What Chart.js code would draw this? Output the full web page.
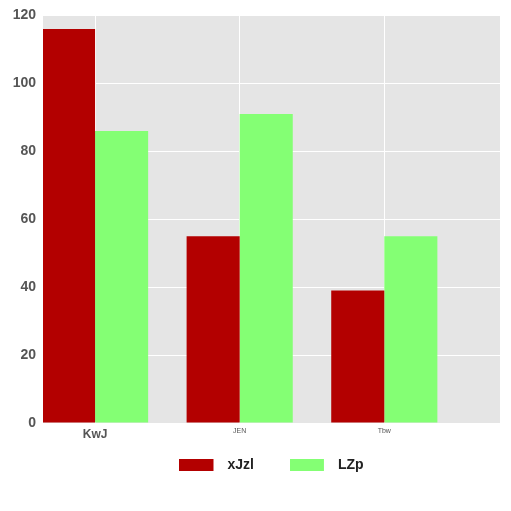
<!DOCTYPE html>
<html>
<head>
<meta charset="utf-8">
<script src="https://cdn.jsdelivr.net/npm/chart.js@4"></script>
<style>
  html, body { margin: 0; padding: 0; background: #fff; }
  #wrap { width: 511px; height: 511px; position: relative; }
</style>
</head>
<body>
<div id="wrap"><canvas id="c"></canvas></div>
<script>
// data
const categories = ['KwJ', 'JEN', 'Tbw'];
const seriesNames = ['xJzl', 'LZp'];
const xJzlValues = [116, 55, 39];
const LZpValues = [86, 91, 55];
const yTicks = [0, 20, 40, 60, 80, 100, 120];

const colors = ['#b30000', '#84ff74'];

// grey panel behind the plot
const panelBg = {
  id: 'panelBg',
  beforeDraw(chart) {
    const a = chart.chartArea, ctx = chart.ctx;
    ctx.save();
    ctx.fillStyle = '#e5e5e5';
    ctx.fillRect(a.left, a.top, a.right - a.left, a.bottom - a.top);
    ctx.restore();
  }
};

// legend sits closer to the axis than chart.js would put it
const legendNudge = {
  id: 'legendNudge',
  afterLayout(chart) {
    const l = chart.legend;
    l.top -= 21; l.bottom -= 21;
  }
};

// legend swatch with some blank room on its right, so the text sits further away
function swatch(color) {
  const c = document.createElement('canvas');
  c.width = 41; c.height = 12;
  const g = c.getContext('2d');
  g.fillStyle = color;
  g.fillRect(0, 0, 34, 12);
  return c;
}

const toPoints = vals => vals.map((v, i) => ({ x: i, y: v }));

new Chart(document.getElementById('c'), {
  type: 'bar',
  data: {
    datasets: [
      { label: seriesNames[0], data: toPoints(xJzlValues), backgroundColor: colors[0], pointStyle: swatch(colors[0]) },
      { label: seriesNames[1], data: toPoints(LZpValues), backgroundColor: colors[1], pointStyle: swatch(colors[1]) }
    ]
  },
  options: {
    responsive: true,
    maintainAspectRatio: false,
    animation: false,
    devicePixelRatio: 1,
    categoryPercentage: 0.734,
    barPercentage: 1.0,
    layout: { padding: { top: 14, right: 11, bottom: 8, left: 0 } },
    scales: {
      x: {
        type: 'linear',
        min: -0.36,
        max: 2.80,
        offset: false,
        afterBuildTicks: axis => { axis.ticks = categories.map((c, i) => ({ value: i })); },
        afterFit: axis => { axis.height = 20; },
        border: { display: false },
        grid: { color: '#ffffff', lineWidth: 1, drawTicks: false, offset: false },
        ticks: {
          padding: 4,
          color: '#555',
          callback: v => categories[v],
          font: ctx => ctx.index === 0
            ? { family: 'Liberation Sans', size: 12, weight: 'bold' }
            : { family: 'Liberation Sans', size: 7, weight: 'normal' }
        }
      },
      y: {
        min: 0,
        max: 120,
        afterBuildTicks: axis => { axis.ticks = yTicks.map(v => ({ value: v })); },
        afterFit: axis => { axis.width = 43; },
        border: { display: false },
        grid: { color: '#ffffff', lineWidth: 1, drawTicks: false },
        ticks: {
          padding: 7,
          color: '#555',
          font: { family: 'Liberation Sans', size: 14, weight: 'bold' }
        }
      }
    },
    plugins: {
      legend: {
        position: 'bottom',
        fullSize: false,
        labels: {
          usePointStyle: true,
          pointStyleWidth: 41,
          boxHeight: 12,
          padding: 36,
          color: '#222',
          font: { family: 'Liberation Sans', size: 14, weight: 'bold' }
        }
      },
      tooltip: { enabled: false }
    }
  },
  plugins: [panelBg, legendNudge]
});
</script>
</body>
</html>
